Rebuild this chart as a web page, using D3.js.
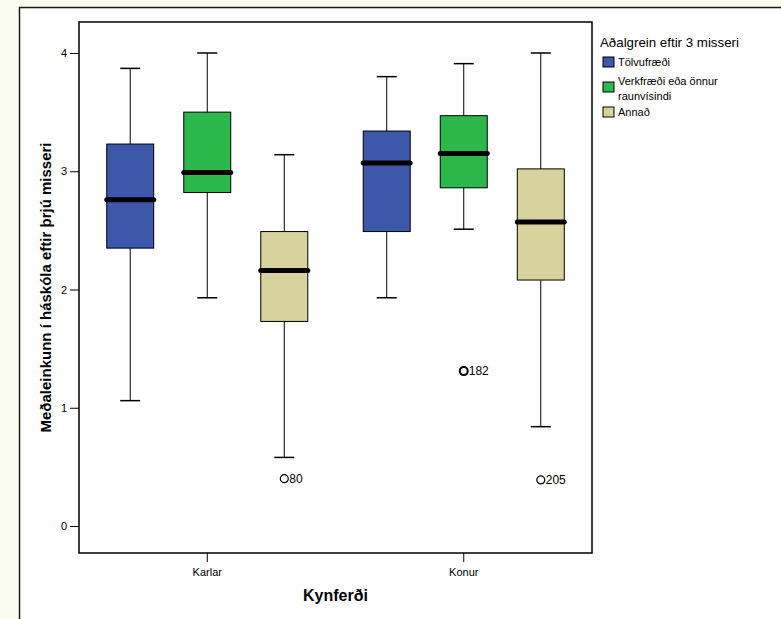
<!DOCTYPE html>
<html>
<head>
<meta charset="utf-8">
<script src="https://cdn.jsdelivr.net/npm/d3@7"></script>
<style>
  body { margin: 0; background: #fafcf0; }
  svg { display: block; font-family: "Liberation Sans", Arial, sans-serif; }
  .axis { color: #000; }
  .axis path, .axis line { stroke: #000; }
  .axis text { font-size: 11px; fill: #000; }
</style>
</head>
<body>
<div class="chart"></div>
<script>
const width = 781;
const height = 619;

// data
const genders = ['Karlar', 'Konur'];
const majors = ['Tölvufræði', 'Verkfræði eða önnur raunvísindi', 'Annað'];
const majorLines = [['Tölvufræði'], ['Verkfræði eða önnur', 'raunvísindi'], ['Annað']];
const colors = ['#3d57ab', '#2db84b', '#d8d29c'];
const yTicks = [0, 1, 2, 3, 4];

// [low whisker, Q1, median, Q3, high whisker] per gender, per major
const karlarStats = [
  [1.06, 2.35, 2.76, 3.23, 3.87],
  [1.93, 2.82, 2.99, 3.50, 4.00],
  [0.58, 1.73, 2.16, 2.49, 3.14]
];
const konurStats = [
  [1.93, 2.49, 3.07, 3.34, 3.80],
  [2.51, 2.86, 3.15, 3.47, 3.91],
  [0.84, 2.08, 2.57, 3.02, 4.00]
];
// outliers: gender, major, value, case label
const outliers = [
  { g: 'Karlar', m: 2, v: 0.40, label: '80' },
  { g: 'Konur', m: 1, v: 1.31, label: '182' },
  { g: 'Konur', m: 2, v: 0.39, label: '205' }
];

const plot = { left: 79, top: 22, right: 592, bottom: 553 };

const svg = d3.select('.chart').append('svg')
    .attr('width', width)
    .attr('height', height);

// outer frame
svg.append('rect')
    .attr('x', 19.5).attr('y', 7.5)
    .attr('width', 900).attr('height', 800)
    .attr('fill', '#fff')
    .attr('stroke', '#1a1a1a')
    .attr('stroke-width', 1.5);

const xScale = d3.scaleBand()
    .domain(genders)
    .range([plot.left, plot.right]);
const xSub = d3.scaleBand()
    .domain(d3.range(majors.length))
    .range([0, xScale.bandwidth()])
    .paddingInner(0.39)
    .paddingOuter(0.36);
const yScale = d3.scaleLinear()
    .domain([0, 4])
    .range([526, 53]);

// plot box
svg.append('rect')
    .attr('x', plot.left).attr('y', plot.top)
    .attr('width', plot.right - plot.left)
    .attr('height', plot.bottom - plot.top)
    .attr('fill', 'none')
    .attr('stroke', '#000')
    .attr('stroke-width', 1.5);

/*      axes      */
svg.append('g')
    .attr('class', 'axis')
    .attr('transform', `translate(${plot.left},0)`)
    .call(d3.axisLeft(yScale).tickValues(yTicks).tickSize(9).tickPadding(3).tickFormat(d3.format('d')))
    .call(g => g.select('.domain').remove());

svg.append('g')
    .attr('class', 'axis')
    .attr('transform', `translate(0,${plot.bottom})`)
    .call(d3.axisBottom(xScale).tickSize(9).tickPadding(6))
    .call(g => g.select('.domain').remove());

svg.append('text')
    .attr('transform', `translate(51,${(plot.top + plot.bottom) / 2}) rotate(-90)`)
    .attr('text-anchor', 'middle')
    .attr('font-weight', 'bold')
    .attr('font-size', 15)
    .text('Meðaleinkunn í háskóla eftir þrjú misseri');

svg.append('text')
    .attr('x', (plot.left + plot.right) / 2)
    .attr('y', 601)
    .attr('text-anchor', 'middle')
    .attr('font-weight', 'bold')
    .attr('font-size', 16)
    .text('Kynferði');

/*      boxes      */
const rows = [];
genders.forEach((g, gi) => {
    const stats = gi === 0 ? karlarStats : konurStats;
    stats.forEach((s, mi) => rows.push({ g, mi, s }));
});
const bw = xSub.bandwidth();
const capW = 20;
const boxes = svg.selectAll('g.box')
    .data(rows)
    .enter()
    .append('g')
    .attr('class', 'box')
    .attr('transform', d => `translate(${xScale(d.g) + xSub(d.mi)},0)`);

boxes.append('line')
    .attr('x1', bw / 2).attr('x2', bw / 2)
    .attr('y1', d => yScale(d.s[0])).attr('y2', d => yScale(d.s[4]))
    .attr('stroke', '#000');
boxes.selectAll('line.cap')
    .data(d => [d.s[0], d.s[4]])
    .enter()
    .append('line')
    .attr('class', 'cap')
    .attr('x1', bw / 2 - capW / 2).attr('x2', bw / 2 + capW / 2)
    .attr('y1', v => yScale(v)).attr('y2', v => yScale(v))
    .attr('stroke', '#000')
    .attr('stroke-width', 1.5);
boxes.append('rect')
    .attr('x', 0).attr('width', bw)
    .attr('y', d => yScale(d.s[3]))
    .attr('height', d => yScale(d.s[1]) - yScale(d.s[3]))
    .attr('fill', d => colors[d.mi])
    .attr('stroke', '#000');
boxes.append('line')
    .attr('x1', 0).attr('x2', bw)
    .attr('y1', d => yScale(d.s[2])).attr('y2', d => yScale(d.s[2]))
    .attr('stroke', '#000')
    .attr('stroke-width', 5)
    .attr('stroke-linecap', 'round');

/*      outliers      */
const outG = svg.selectAll('g.out')
    .data(outliers)
    .enter()
    .append('g')
    .attr('transform', d => `translate(${xScale(d.g) + xSub(d.m) + bw / 2},${yScale(d.v)})`);
outG.append('circle')
    .attr('r', 4)
    .attr('fill', 'none')
    .attr('stroke', '#000')
    .attr('stroke-width', d => d.label === '182' ? 2 : 1.2);
outG.append('text')
    .attr('x', 5)
    .attr('dy', '0.35em')
    .attr('font-size', 12)
    .text(d => d.label);

/*      legend      */
svg.append('text')
    .attr('x', 600).attr('y', 47)
    .attr('font-size', 13.3)
    .text('Aðalgrein eftir 3 misseri');
const legendY = [57, 82, 107];
const leg = svg.selectAll('g.leg')
    .data(majors)
    .enter()
    .append('g')
    .attr('transform', (d, i) => `translate(603,${legendY[i]})`);
leg.append('rect')
    .attr('width', 11).attr('height', 10)
    .attr('fill', (d, i) => colors[i])
    .attr('stroke', '#000');
leg.append('text')
    .attr('x', 15)
    .attr('font-size', 11)
    .selectAll('tspan')
    .data((d, i) => majorLines[i].map((t, j) => ({ t, j, n: majorLines[i].length })))
    .enter()
    .append('tspan')
    .attr('x', 15)
    .attr('y', d => d.n > 1 ? (d.j === 0 ? 3 : 18) : 9)
    .text(d => d.t);
</script>
</body>
</html>
